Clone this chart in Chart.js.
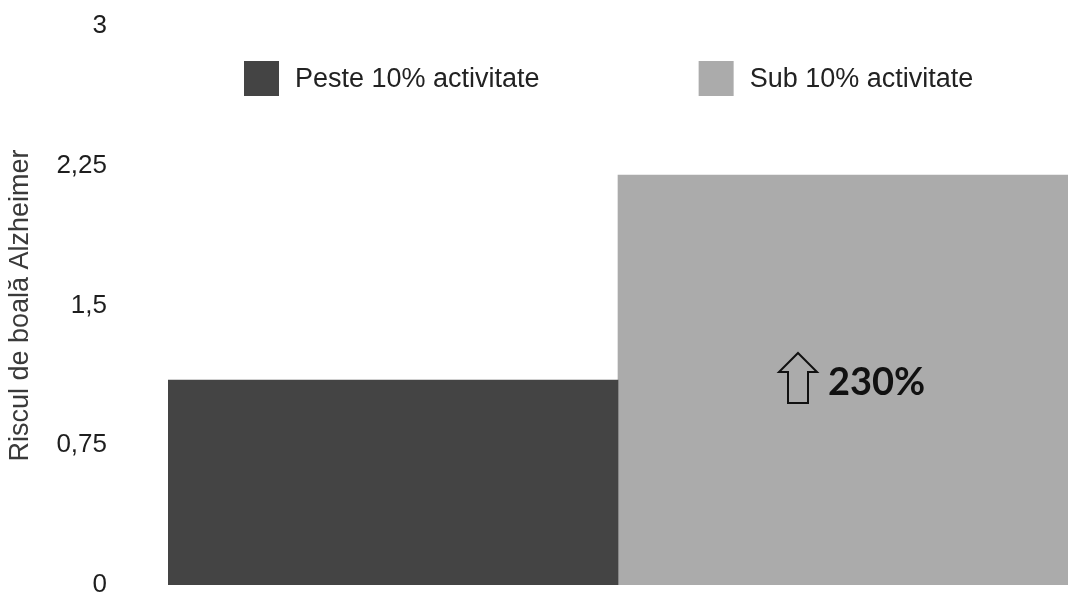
<!DOCTYPE html>
<html>
<head>
<meta charset="utf-8">
<title>Riscul de boală Alzheimer</title>
<script src="https://cdn.jsdelivr.net/npm/chart.js@4/dist/chart.umd.min.js"></script>
<style>
  html, body { margin: 0; padding: 0; background: #fff; }
  #wrap { width: 1068px; height: 593px; }
</style>
</head>
<body>
<div id="wrap"><canvas id="riskChart" width="1068" height="593"></canvas></div>
<script>
// data
const categories = [""];
const seriesNames = ["Peste 10% activitate", "Sub 10% activitate"];
const seriesValues = [[1.1], [2.2]];
const seriesColors = ["#444444", "#ababab"];
const yTicks = [0, 0.75, 1.5, 2.25, 3];
const axisTitle = "Riscul de boală Alzheimer";
const increaseLabel = "230%";

const FONT = "'Liberation Sans', Arial, sans-serif";

// legend drawn across the top of the plot area
const topLegend = {
  id: "topLegend",
  afterDraw(chart) {
    const ctx = chart.ctx;
    ctx.save();
    ctx.font = "27px " + FONT;
    ctx.textBaseline = "middle";
    ctx.textAlign = "left";
    let x = 244;
    const y = 61, box = 35;
    chart.data.datasets.forEach(ds => {
      ctx.fillStyle = ds.backgroundColor;
      ctx.fillRect(x, y, box, box);
      ctx.fillStyle = "#222";
      const tx = x + box + 16;
      ctx.fillText(ds.label, tx, y + box / 2 + 1);
      x = tx + ctx.measureText(ds.label).width + 159;
    });
    ctx.restore();
  }
};

// outlined up-arrow + percentage inside the second bar
const increaseNote = {
  id: "increaseNote",
  afterDatasetsDraw(chart) {
    const bar = chart.getDatasetMeta(1).data[0];
    if (!bar) return;
    const ctx = chart.ctx;
    const cx = bar.x;
    const cy = (bar.y + bar.base) / 2;
    const ax = cx - 45, top = cy - 27;
    ctx.save();
    ctx.strokeStyle = "#111";
    ctx.lineWidth = 2;
    ctx.lineJoin = "miter";
    ctx.beginPath();
    ctx.moveTo(ax, top);
    ctx.lineTo(ax + 19, top + 19);
    ctx.lineTo(ax + 10, top + 19);
    ctx.lineTo(ax + 10, top + 50);
    ctx.lineTo(ax - 10, top + 50);
    ctx.lineTo(ax - 10, top + 19);
    ctx.lineTo(ax - 19, top + 19);
    ctx.closePath();
    ctx.stroke();
    ctx.fillStyle = "#111";
    ctx.font = "bold 38px Lato, 'Open Sans', sans-serif";
    ctx.textAlign = "left";
    ctx.textBaseline = "middle";
    ctx.fillText(increaseLabel, cx - 15, cy + 3);
    ctx.restore();
  }
};

new Chart(document.getElementById("riskChart"), {
  type: "bar",
  data: {
    labels: categories,
    datasets: seriesNames.map((name, i) => ({
      label: name,
      data: seriesValues[i],
      backgroundColor: seriesColors[i],
      borderWidth: 0,
      categoryPercentage: 1,
      barPercentage: 1,
    })),
  },
  options: {
    responsive: false,
    animation: false,
    layout: { padding: { top: 26, bottom: 8, left: 0, right: 0 } },
    plugins: { legend: { display: false }, tooltip: { enabled: false } },
    scales: {
      x: { display: false },
      y: {
        min: 0,
        max: 3,
        afterBuildTicks(scale) {
          scale.ticks = yTicks.map(v => ({ value: v }));
        },
        afterFit(scale) {
          scale.width = 168;
          scale.paddingTop = 0;
          scale.paddingBottom = 0;
        },
        grid: { display: false, drawTicks: false },
        border: { display: false },
        ticks: {
          padding: 61,
          color: "#1e1e1e",
          font: { family: FONT, size: 26 },
          callback: v => String(v).replace(".", ","),
        },
        title: {
          display: true,
          text: axisTitle,
          color: "#3a3a3a",
          font: { family: FONT, size: 27 },
          padding: { top: 4, bottom: 0 },
        },
      },
    },
  },
  plugins: [topLegend, increaseNote],
});
</script>
</body>
</html>
